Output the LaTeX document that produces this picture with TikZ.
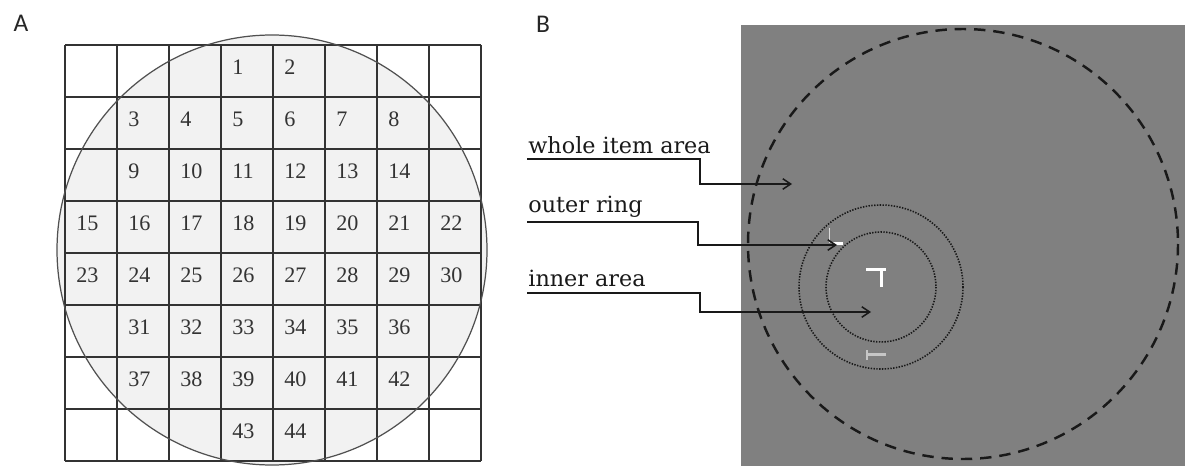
\documentclass[tikz,border=0pt]{standalone}
\usepackage{fontspec}
\usepackage{xcolor}
\usetikzlibrary{arrows.meta}
\newfontfamily\numfont{Liberation Serif}
\newfontfamily\lblfont{DejaVu Serif}
\newfontfamily\panelfont{Carlito}
\definecolor{bggray}{RGB}{128,128,128}
\definecolor{discgray}{RGB}{242,242,242}
\definecolor{rimgray}{RGB}{80,80,80}

\begin{document}
\begin{tikzpicture}[
    x=0.02cm, y=-0.02cm,
    num/.style={anchor=west, inner sep=0pt, text=black!80, font=\numfont\fontsize{12.6}{14}\selectfont},
    lbl/.style={anchor=base west, inner sep=0pt, text=black!90, font=\lblfont\fontsize{12.7}{15}\selectfont},
    panel/.style={inner sep=0pt, text=black!85, font=\panelfont\fontsize{14.5}{16}\selectfont},
    gridline/.style={draw=black!80, line width=0.75pt},
    pointer/.style={draw=black!90, line width=0.85pt, -{Straight Barb[length=4.5pt,width=6pt]}},
    itemring/.style={draw=black!90, line width=1.4pt, dash pattern=on 6.5pt off 4.5pt},
    dotring/.style={draw=black!90, line width=0.9pt, dash pattern=on 0.8pt off 0.8pt}
]
\useasboundingbox (0,0) rectangle (1185,466);

% Panel A: disc under the grid
\fill[discgray] (272,250) circle[radius=215];
\foreach \i in {0,...,8} {
    \draw[gridline] ({65+52*\i},45) -- ({65+52*\i},461);
    \draw[gridline] (65,{45+52*\i}) -- (481,{45+52*\i});
}
\draw[rimgray, line width=0.7pt] (272,250) circle[radius=215];

% Cell numbers (row / first col / last col / first number)
\foreach \r/\cA/\cB/\first in {0/3/4/1, 1/1/6/3, 2/1/6/9, 3/0/7/15, 4/0/7/23, 5/1/6/31, 6/1/6/37, 7/3/4/43} {
    \foreach \c in {\cA,...,\cB} {
        \pgfmathtruncatemacro\n{\first+\c-\cA}
        \node[num] (n\n) at ({65+52*\c+11}, {45+52*\r+22.5}) {\n};
    }
}

% Panel labels
\node[panel] (labA) at (21,23) {A};
\node[panel] (labB) at (543,24) {B};

% Panel B: display
\fill[bggray] (741,25) rectangle (1185,466);
\draw[itemring] (963,244) circle[radius=215];
\draw[dotring] (881,287) circle[radius=82];
\draw[dotring] (881,287) circle[radius=55];

% Items
\draw[white, line width=1.7pt] (866,269.5) -- (886,269.5) (881,269.5) -- (881,287);
\draw[white!70!bggray, line width=1.1pt] (829.5,228) -- (829.5,243);
\draw[white, line width=1.4pt] (833,243.5) -- (843,243.5);
\draw[white!55!bggray, line width=1.4pt] (867,350) -- (867,360) (867,354.5) -- (886,354.5);

% Area labels
\node[lbl] (whole) at (528,153) {whole item area};
\node[lbl] (outer) at (528,212) {outer ring};
\node[lbl] (inner) at (528,286) {inner area};

\coordinate (w0) at (527,159);
\coordinate (o0) at (527,222);
\coordinate (i0) at (527,293);
\coordinate (wtip) at (792,184);
\coordinate (otip) at (837,245);
\coordinate (itip) at (871,312);

\draw[pointer] (w0) -- ++(173,0) |- (wtip);
\draw[pointer] (o0) -- ++(171,0) |- (otip);
\draw[pointer] (i0) -- ++(173,0) |- (itip);

\end{tikzpicture}
\end{document}
